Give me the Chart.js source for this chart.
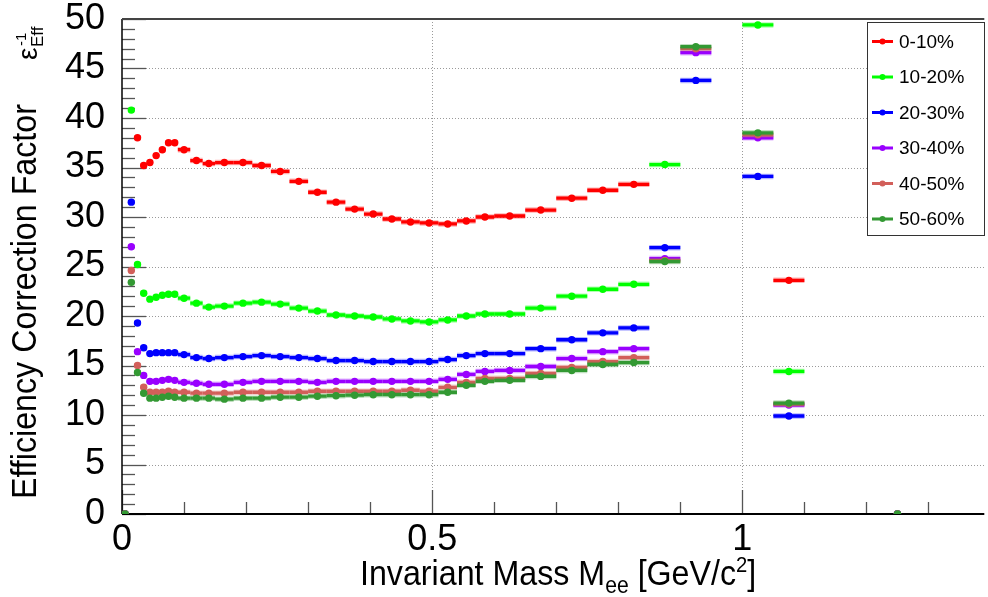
<!DOCTYPE html>
<html>
<head>
<meta charset="utf-8">
<script src="https://cdn.jsdelivr.net/npm/chart.js@4.4.0/dist/chart.umd.min.js"></script>
<style>
  html, body { margin: 0; padding: 0; background: #fff; }
  #wrap { width: 988px; height: 597px; position: relative; }
</style>
</head>
<body>
<div id="wrap"><canvas id="eff"></canvas></div>
<script>
// bin edges in GeV/c^2 (variable width histogram)
const binEdges = [0, 0.01, 0.02, 0.03, 0.04, 0.05, 0.06, 0.07, 0.08, 0.09,
  0.11, 0.13, 0.15, 0.18, 0.21, 0.24, 0.27, 0.30, 0.33, 0.36, 0.39, 0.42,
  0.45, 0.48, 0.51, 0.54, 0.57, 0.60, 0.65, 0.70, 0.75, 0.80, 0.85, 0.90,
  0.95, 1.00, 1.05, 1.10, 1.40];

const centrality = ['0-10%', '10-20%', '20-30%', '30-40%', '40-50%', '50-60%'];

// 1/eff per bin, null = off scale
const eff0010 = [0, null, 38.0, 35.2, 35.5, 36.2, 36.8, 37.5, 37.5, 36.8, 35.7, 35.4, 35.5, 35.5,
  35.2, 34.6, 33.6, 32.5, 31.5, 30.8, 30.3, 29.8, 29.5, 29.4, 29.3, 29.6, 30.0, 30.1, 30.7,
  31.9, 32.7, 33.3, null, null, null, null, 23.6, 0];
const eff1020 = [0, 40.8, 25.2, 22.3, 21.7, 21.9, 22.1, 22.2, 22.2, 21.8, 21.3, 20.9, 21.0, 21.3,
  21.4, 21.2, 20.8, 20.5, 20.1, 20.0, 19.9, 19.7, 19.5, 19.4, 19.6, 20.0, 20.2, 20.2, 20.8,
  22.0, 22.7, 23.2, 35.3, null, null, 49.4, 14.4, 0];
const eff2030 = [0, 31.5, 19.3, 16.8, 16.2, 16.3, 16.3, 16.3, 16.3, 16.1, 15.8, 15.7, 15.8, 15.9,
  16.0, 15.9, 15.8, 15.7, 15.5, 15.5, 15.4, 15.4, 15.4, 15.4, 15.6, 16.0, 16.2, 16.2, 16.7,
  17.6, 18.3, 18.8, 26.9, 43.8, null, 34.1, 9.9, 0];
const eff3040 = [0, 27.0, 16.4, 14.0, 13.4, 13.4, 13.5, 13.6, 13.5, 13.3, 13.2, 13.1, 13.1, 13.3,
  13.4, 13.4, 13.4, 13.3, 13.4, 13.4, 13.4, 13.4, 13.4, 13.4, 13.6, 14.1, 14.4, 14.5, 14.9,
  15.7, 16.4, 16.7, 25.8, 46.6, null, 38.0, 11.0, 0];
const eff4050 = [0, 24.6, 15.0, 12.8, 12.3, 12.3, 12.3, 12.4, 12.3, 12.3, 12.2, 12.2, 12.2, 12.3,
  12.3, 12.3, 12.3, 12.4, 12.4, 12.4, 12.4, 12.4, 12.5, 12.4, 12.8, 13.3, 13.7, 13.7, 14.2,
  14.8, 15.4, 15.8, 25.6, 47.0, null, 38.3, 11.1, 0];
const eff5060 = [0, 23.4, 14.3, 12.2, 11.7, 11.7, 11.8, 11.9, 11.8, 11.7, 11.7, 11.7, 11.6, 11.7,
  11.7, 11.8, 11.8, 11.9, 11.95, 12.0, 12.05, 12.05, 12.05, 12.05, 12.3, 13.0, 13.4, 13.5, 13.9,
  14.5, 15.1, 15.3, 25.5, 47.2, null, 38.5, 11.2, 0];

const xTickLabels = [0, 0.5, 1];
const yTickLabels = [0, 5, 10, 15, 20, 25, 30, 35, 40, 45, 50];

const allSeries = [eff0010, eff1020, eff2030, eff3040, eff4050, eff5060];
const colors = ['#ff0000', '#00ff00', '#0000ff', '#9900ff', '#d25f5a', '#339933'];

const FONT = '"Liberation Sans", Arial, Helvetica, sans-serif';

function toPoints(vals) {
  var pts = [];
  vals.forEach(function (v, i) {
    if (v === null) return;
    pts.push({ x: (binEdges[i] + binEdges[i + 1]) / 2, y: v, lo: binEdges[i], hi: binEdges[i + 1] });
  });
  return pts;
}

const datasets = allSeries.map(function (vals, k) {
  return {
    label: centrality[k],
    data: toPoints(vals),
    showLine: false,
    pointRadius: 3.7,
    pointHoverRadius: 3.7,
    pointBorderWidth: 0,
    backgroundColor: colors[k],
    borderColor: colors[k],
    order: allSeries.length - k   // later series drawn on top, like ROOT
  };
});

// horizontal bin-width bars, drawn just before each dataset's markers
const binBars = {
  id: 'binBars',
  beforeDatasetDraw(chart, args) {
    const ctx = chart.ctx, xs = chart.scales.x, ys = chart.scales.y;
    const ds = chart.data.datasets[args.index];
    const a = chart.chartArea;
    ctx.save();
    ctx.beginPath();
    ctx.rect(a.left, a.top, a.right - a.left, a.bottom - a.top);
    ctx.clip();
    ds.data.forEach(function (p) {
      if (p.y === 0) return;
      const y = ys.getPixelForValue(p.y);
      const x1 = xs.getPixelForValue(p.lo), x2 = xs.getPixelForValue(p.hi);
      ctx.strokeStyle = ds.borderColor;
      ctx.globalAlpha = 0.3;
      ctx.lineWidth = 5.5;
      ctx.beginPath(); ctx.moveTo(x1, y); ctx.lineTo(x2, y); ctx.stroke();
      ctx.globalAlpha = 1;
      ctx.lineWidth = 3.3;
      ctx.beginPath(); ctx.moveTo(x1, y); ctx.lineTo(x2, y); ctx.stroke();
    });
    ctx.restore();
  }
};

// ROOT-like frame: dotted grid, inward ticks, axis lines
const frame = {
  id: 'frame',
  beforeDatasetsDraw(chart) {
    const ctx = chart.ctx, xs = chart.scales.x, ys = chart.scales.y, a = chart.chartArea;
    ctx.save();
    ctx.strokeStyle = '#9a9a9a';
    ctx.lineWidth = 1;
    ctx.setLineDash([1, 2]);
    yTickLabels.forEach(function (v) {
      if (v === 0 || v === 50) return;
      const y = Math.round(ys.getPixelForValue(v)) + 0.5;
      ctx.beginPath(); ctx.moveTo(a.left, y); ctx.lineTo(a.right, y); ctx.stroke();
    });
    xTickLabels.forEach(function (v) {
      if (v === 0) return;
      const x = Math.round(xs.getPixelForValue(v)) + 0.5;
      ctx.beginPath(); ctx.moveTo(x, a.top); ctx.lineTo(x, a.bottom); ctx.stroke();
    });
    ctx.setLineDash([]);

    // y ticks (every 1, major every 5)
    ctx.strokeStyle = '#555';
    ctx.lineWidth = 1.3;
    for (let v = 0; v <= 50; v++) {
      const y = Math.round(ys.getPixelForValue(v)) + 0.5;
      const len = v % 5 === 0 ? 24 : 13;
      ctx.beginPath(); ctx.moveTo(a.left, y); ctx.lineTo(a.left + len, y); ctx.stroke();
    }
    // x ticks (every 0.1, major every 0.5)
    for (let i = 0; i <= 13; i++) {
      const x = Math.round(xs.getPixelForValue(i / 10)) + 0.5;
      const len = i % 5 === 0 ? 24 : 12;
      ctx.beginPath(); ctx.moveTo(x, a.bottom); ctx.lineTo(x, a.bottom - len); ctx.stroke();
    }
    // axes
    ctx.strokeStyle = '#000';
    ctx.lineWidth = 2;
    ctx.beginPath(); ctx.moveTo(a.left, a.bottom); ctx.lineTo(a.right, a.bottom); ctx.stroke();
    ctx.lineWidth = 1.5;
    ctx.beginPath(); ctx.moveTo(a.left, a.top); ctx.lineTo(a.left, a.bottom); ctx.stroke();
    ctx.strokeStyle = '#444';
    ctx.lineWidth = 2;
    ctx.beginPath(); ctx.moveTo(a.left, a.top); ctx.lineTo(a.right, a.top); ctx.stroke();
    ctx.restore();
  }
};

function drawParts(ctx, parts) {
  let x = 0;
  parts.forEach(function (p) {
    ctx.font = p.size + 'px ' + FONT;
    ctx.fillText(p.t, x, p.dy || 0);
    x += ctx.measureText(p.t).width;
  });
}

// axis titles and legend box
const decor = {
  id: 'decor',
  afterDraw(chart) {
    const ctx = chart.ctx;
    ctx.save();
    ctx.fillStyle = '#000';
    ctx.textBaseline = 'alphabetic';
    ctx.textAlign = 'left';

    // x title
    ctx.save();
    ctx.translate(360, 585);
    ctx.scale(0.92, 1);
    drawParts(ctx, [
      { t: 'Invariant Mass M', size: 35 },
      { t: 'ee', size: 23, dy: 8 },
      { t: ' [GeV/c', size: 35 },
      { t: '2', size: 22, dy: -13 },
      { t: ']', size: 35 }
    ]);
    ctx.restore();

    // y title
    ctx.save();
    ctx.translate(36, 499);
    ctx.rotate(-Math.PI / 2);
    ctx.save();
    ctx.scale(0.92, 1);
    drawParts(ctx, [{ t: 'Efficiency Correction Factor', size: 35 }]);
    ctx.restore();
    ctx.font = '28px ' + FONT;
    ctx.fillText('\u03B5', 439, 1);
    ctx.font = '15px ' + FONT;
    ctx.fillText('-1', 453, -10);
    ctx.font = '17px ' + FONT;
    ctx.fillText('Eff', 452, 7);
    ctx.restore();

    // legend
    const lx = 867.5, ly = 22.5, lw = 117, lh = 213;
    ctx.fillStyle = '#fff';
    ctx.fillRect(lx, ly, lw, lh);
    ctx.strokeStyle = '#333';
    ctx.lineWidth = 1;
    ctx.strokeRect(lx, ly, lw, lh);
    ctx.font = '19px ' + FONT;
    ctx.textBaseline = 'middle';
    centrality.forEach(function (name, k) {
      const y = 41.5 + k * 35.5;
      ctx.strokeStyle = colors[k];
      ctx.lineWidth = 3;
      ctx.beginPath(); ctx.moveTo(872, y); ctx.lineTo(893, y); ctx.stroke();
      ctx.fillStyle = colors[k];
      ctx.beginPath(); ctx.arc(882.5, y, 3, 0, Math.PI * 2); ctx.fill();
      ctx.fillStyle = '#000';
      ctx.fillText(name, 899, y + 1);
    });
    ctx.restore();
  }
};

new Chart(document.getElementById('eff'), {
  type: 'scatter',
  data: { datasets: datasets },
  options: {
    responsive: true,
    maintainAspectRatio: false,
    animation: false,
    layout: { padding: { top: 19, right: 0, left: 0, bottom: 0 } },
    plugins: { legend: { display: false }, tooltip: { enabled: false } },
    scales: {
      x: {
        type: 'linear',
        min: 0,
        max: 1.39,
        afterBuildTicks: function (s) { s.ticks = xTickLabels.map(function (v) { return { value: v }; }); },
        afterFit: function (s) { s.height = 83; s.paddingLeft = 0; s.paddingRight = 0; },
        grid: { display: false },
        border: { display: false },
        ticks: {
          color: '#000',
          font: { family: FONT, size: 36 },
          padding: -4,
          maxRotation: 0,
          autoSkip: false,
          callback: function (v) { return String(v); }
        }
      },
      y: {
        min: 0,
        max: 50,
        afterBuildTicks: function (s) { s.ticks = yTickLabels.map(function (v) { return { value: v }; }); },
        afterFit: function (s) { s.width = 122; s.paddingTop = 0; s.paddingBottom = 0; },
        grid: { display: false },
        border: { display: false },
        ticks: {
          color: '#000',
          font: { family: FONT, size: 36 },
          padding: 9,
          callback: function (v) { return String(v); }
        }
      }
    }
  },
  plugins: [frame, binBars, decor]
});
</script>
</body>
</html>
